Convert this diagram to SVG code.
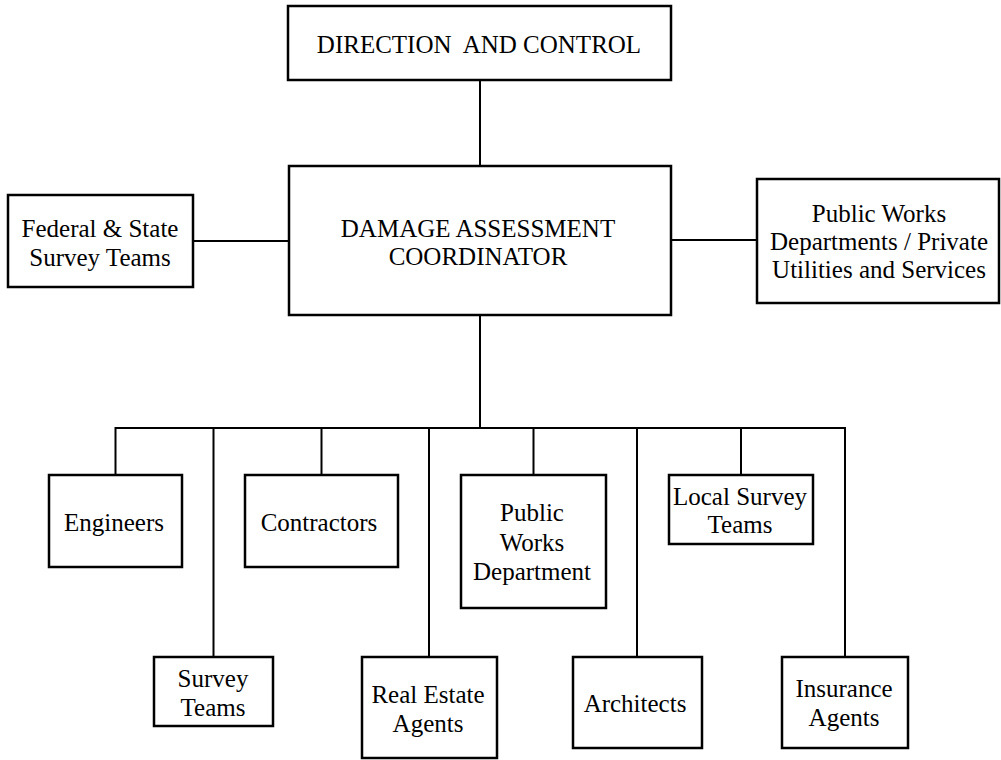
<svg xmlns="http://www.w3.org/2000/svg" width="1001" height="760" viewBox="0 0 1001 760">
  <style>
    .box { fill: #ffffff; stroke: #000000; stroke-width: 2.5; }
    .link { fill: none; stroke: #000000; stroke-width: 2; }
    text { font-family: "Liberation Serif", "Times New Roman", serif; font-size: 25px; fill: #000000; text-anchor: middle; }
  </style>
  <rect x="0" y="0" width="1001" height="760" fill="#ffffff"/>

  <!-- connectors -->
  <g id="connectors">
    <path class="link" d="M480 80 V166"/>
    <path class="link" d="M193 241 H289"/>
    <path class="link" d="M671 240 H757"/>
    <path class="link" d="M480 315 V428"/>
    <path class="link" d="M115.5 428 H846"/>
    <path class="link" d="M115.5 427 V475"/>
    <path class="link" d="M213.5 427 V657"/>
    <path class="link" d="M321.5 427 V475"/>
    <path class="link" d="M429 427 V657"/>
    <path class="link" d="M533.5 427 V475"/>
    <path class="link" d="M637 427 V657"/>
    <path class="link" d="M741 427 V475"/>
    <path class="link" d="M845 427 V657"/>
  </g>

  <g id="direction-control">
    <rect class="box" x="288" y="6" width="383" height="74"/>
    <text x="479" y="53" xml:space="preserve">DIRECTION  AND CONTROL</text>
  </g>

  <g id="damage-assessment-coordinator">
    <rect class="box" x="289" y="166" width="382" height="149"/>
    <text x="478" y="237">DAMAGE ASSESSMENT</text>
    <text x="478" y="265">COORDINATOR</text>
  </g>

  <g id="federal-state-survey">
    <rect class="box" x="8" y="195" width="185" height="92"/>
    <text x="100" y="237">Federal &amp; State</text>
    <text x="100" y="266">Survey Teams</text>
  </g>

  <g id="public-works-utilities">
    <rect class="box" x="757" y="179" width="242" height="124"/>
    <text x="879" y="222">Public Works</text>
    <text x="879" y="250">Departments / Private</text>
    <text x="879" y="278">Utilities and Services</text>
  </g>

  <g id="engineers">
    <rect class="box" x="49" y="475" width="133" height="92"/>
    <text x="114" y="531">Engineers</text>
  </g>

  <g id="contractors">
    <rect class="box" x="245" y="475" width="153" height="92"/>
    <text x="319" y="531">Contractors</text>
  </g>

  <g id="public-works-department">
    <rect class="box" x="461" y="475" width="145" height="133"/>
    <text x="532" y="521">Public</text>
    <text x="532" y="551">Works</text>
    <text x="532" y="580">Department</text>
  </g>

  <g id="local-survey-teams">
    <rect class="box" x="669" y="475" width="144" height="69"/>
    <text x="740" y="505">Local Survey</text>
    <text x="740" y="533">Teams</text>
  </g>

  <g id="survey-teams">
    <rect class="box" x="154" y="657" width="119" height="69"/>
    <text x="213" y="687">Survey</text>
    <text x="213" y="716">Teams</text>
  </g>

  <g id="real-estate-agents">
    <rect class="box" x="362" y="657" width="135" height="101"/>
    <text x="428" y="703">Real Estate</text>
    <text x="428" y="732">Agents</text>
  </g>

  <g id="architects">
    <rect class="box" x="573" y="657" width="129" height="91"/>
    <text x="635" y="712">Architects</text>
  </g>

  <g id="insurance-agents">
    <rect class="box" x="782" y="657" width="126" height="91"/>
    <text x="844" y="697">Insurance</text>
    <text x="844" y="726">Agents</text>
  </g>
</svg>
